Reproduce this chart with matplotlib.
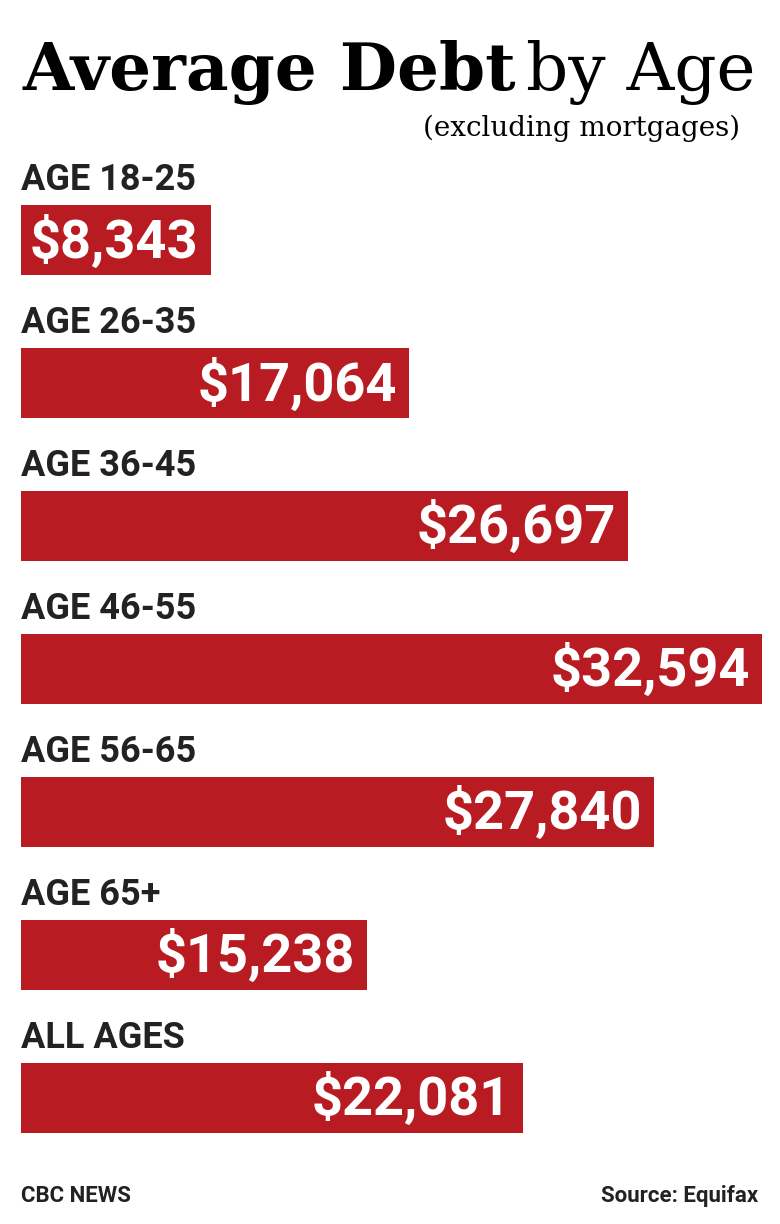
import matplotlib
matplotlib.use("Agg")
import matplotlib.pyplot as plt

# Data
groups = ["AGE 18-25", "AGE 26-35", "AGE 36-45", "AGE 46-55", "AGE 56-65", "AGE 65+", "ALL AGES"]
debt = [8343, 17064, 26697, 32594, 27840, 15238, 22081]

W, H = 780, 1224
RED = "#b81c22"
INK = "#222222"
SANS = ["Roboto", "DejaVu Sans"]
SERIF = ["DejaVu Serif"]


def fx(px):
    return px / W


def fy(py):
    return 1 - py / H


fig = plt.figure(figsize=(W / 100, H / 100), dpi=100)
fig.patch.set_facecolor("white")
renderer = fig.canvas.get_renderer()

# Title: bold part then regular part, fitted to the width 22..755 px
size = 44
gap = 10
t1 = fig.text(fx(22), fy(90), "Average Debt", family=SERIF, fontweight="bold",
              fontsize=size, va="baseline", ha="left", color="black")
t2 = fig.text(0, fy(90), "by Age", family=SERIF, fontweight="normal",
              fontsize=size, va="baseline", ha="left", color="black")
total = t1.get_window_extent(renderer).width + gap + t2.get_window_extent(renderer).width
size = size * (733 - gap) / (total - gap)
t1.set_fontsize(size)
t2.set_fontsize(size)
w1 = t1.get_window_extent(renderer).width
t2.set_x(fx(22 + w1 + gap))

fig.text(fx(740), fy(136), "(excluding mortgages)", family=SERIF, fontsize=20,
         va="baseline", ha="right", color="black")

# Bars axes: x in dollars, left edge at 21px, biggest bar ends at 762px
top_px, bot_px = 154.3, 1169.0
ax = fig.add_axes([fx(21), 1 - bot_px / H, (762 - 21) / W, (bot_px - top_px) / H])
ax.set_xlim(0, max(debt))
ax.set_ylim(6.5, -0.6)
ax.axis("off")

ypos = list(range(len(groups)))
ax.barh(ypos, debt, height=0.49, color=RED, edgecolor="none")

pad = (12 / 741) * max(debt)
for i, (g, v) in enumerate(zip(groups, debt)):
    ax.text(0, i - 0.42, g, family=SANS, fontweight="bold", fontsize=26,
            color=INK, ha="left", va="center")
    ax.text(v - pad, i + 0.01, "${:,}".format(v), family=SANS, fontweight="bold",
            fontsize=39, color="white", ha="right", va="center")

# Footer
fig.text(fx(21), fy(1196), "CBC NEWS", family=SANS, fontweight="bold", fontsize=16,
         color=INK, ha="left", va="center")
fig.text(fx(758), fy(1196), "Source: Equifax", family=SANS, fontweight="bold",
         fontsize=16, color=INK, ha="right", va="center")

fig.savefig("out.png", dpi=100, facecolor="white")
